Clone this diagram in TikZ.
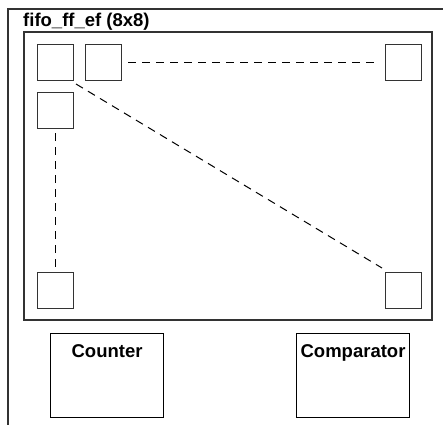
\documentclass[tikz,border=0pt]{standalone}
\usepackage{fontspec}
\setmainfont{Liberation Sans}
\begin{document}
\begin{tikzpicture}[x=1pt,y=-1pt,
  frame/.style={draw=black!80,line width=1.3pt},
  cell/.style={draw=black!80,line width=1.2pt,minimum width=36pt,minimum height=36pt,inner sep=0pt,anchor=north west},
  unit/.style={draw=black,line width=1.1pt,minimum width=113pt,minimum height=84pt,inner sep=0pt,anchor=north west},
  lbl/.style={font=\bfseries\fontsize{18.5}{22}\selectfont,inner sep=0pt},
  link/.style={dashed,dash pattern=on 8pt off 6pt,line width=1pt}]
\useasboundingbox (0,0) rectangle (443,424);
\draw[frame] (8,430) -- (8,9) -- (450,9);
\node[lbl,anchor=base west] (title) at (23,26.5) {fifo\_ff\_ef (8x8)};
\draw[frame] (24,32) rectangle (432,320);
\node[cell] (c11) at (37,44) {};
\node[cell] (c12) at (85,44) {};
\node[cell] (c18) at (385,44) {};
\node[cell] (c21) at (37,92) {};
\node[cell] (c81) at (37,272) {};
\node[cell] (c88) at (385,272) {};
\coordinate (h1) at (128,62);
\coordinate (h2) at (378,62);
\coordinate (d1) at (76,84);
\coordinate (d2) at (382,268);
\coordinate (v1) at (55,133);
\coordinate (v2) at (55,268);
\draw[link] (h1) -- (h2);
\draw[link] (d1) -- (d2);
\draw[link] (v1) -- (v2);
\node[unit] (counter) at (50,333) {};
\node[unit] (comp) at (296,333) {};
\node[lbl,anchor=base] at ([yshift=-24pt]counter.north) {Counter};
\node[lbl,anchor=base] at ([yshift=-24pt]comp.north) {Comparator};
\end{tikzpicture}
\end{document}
